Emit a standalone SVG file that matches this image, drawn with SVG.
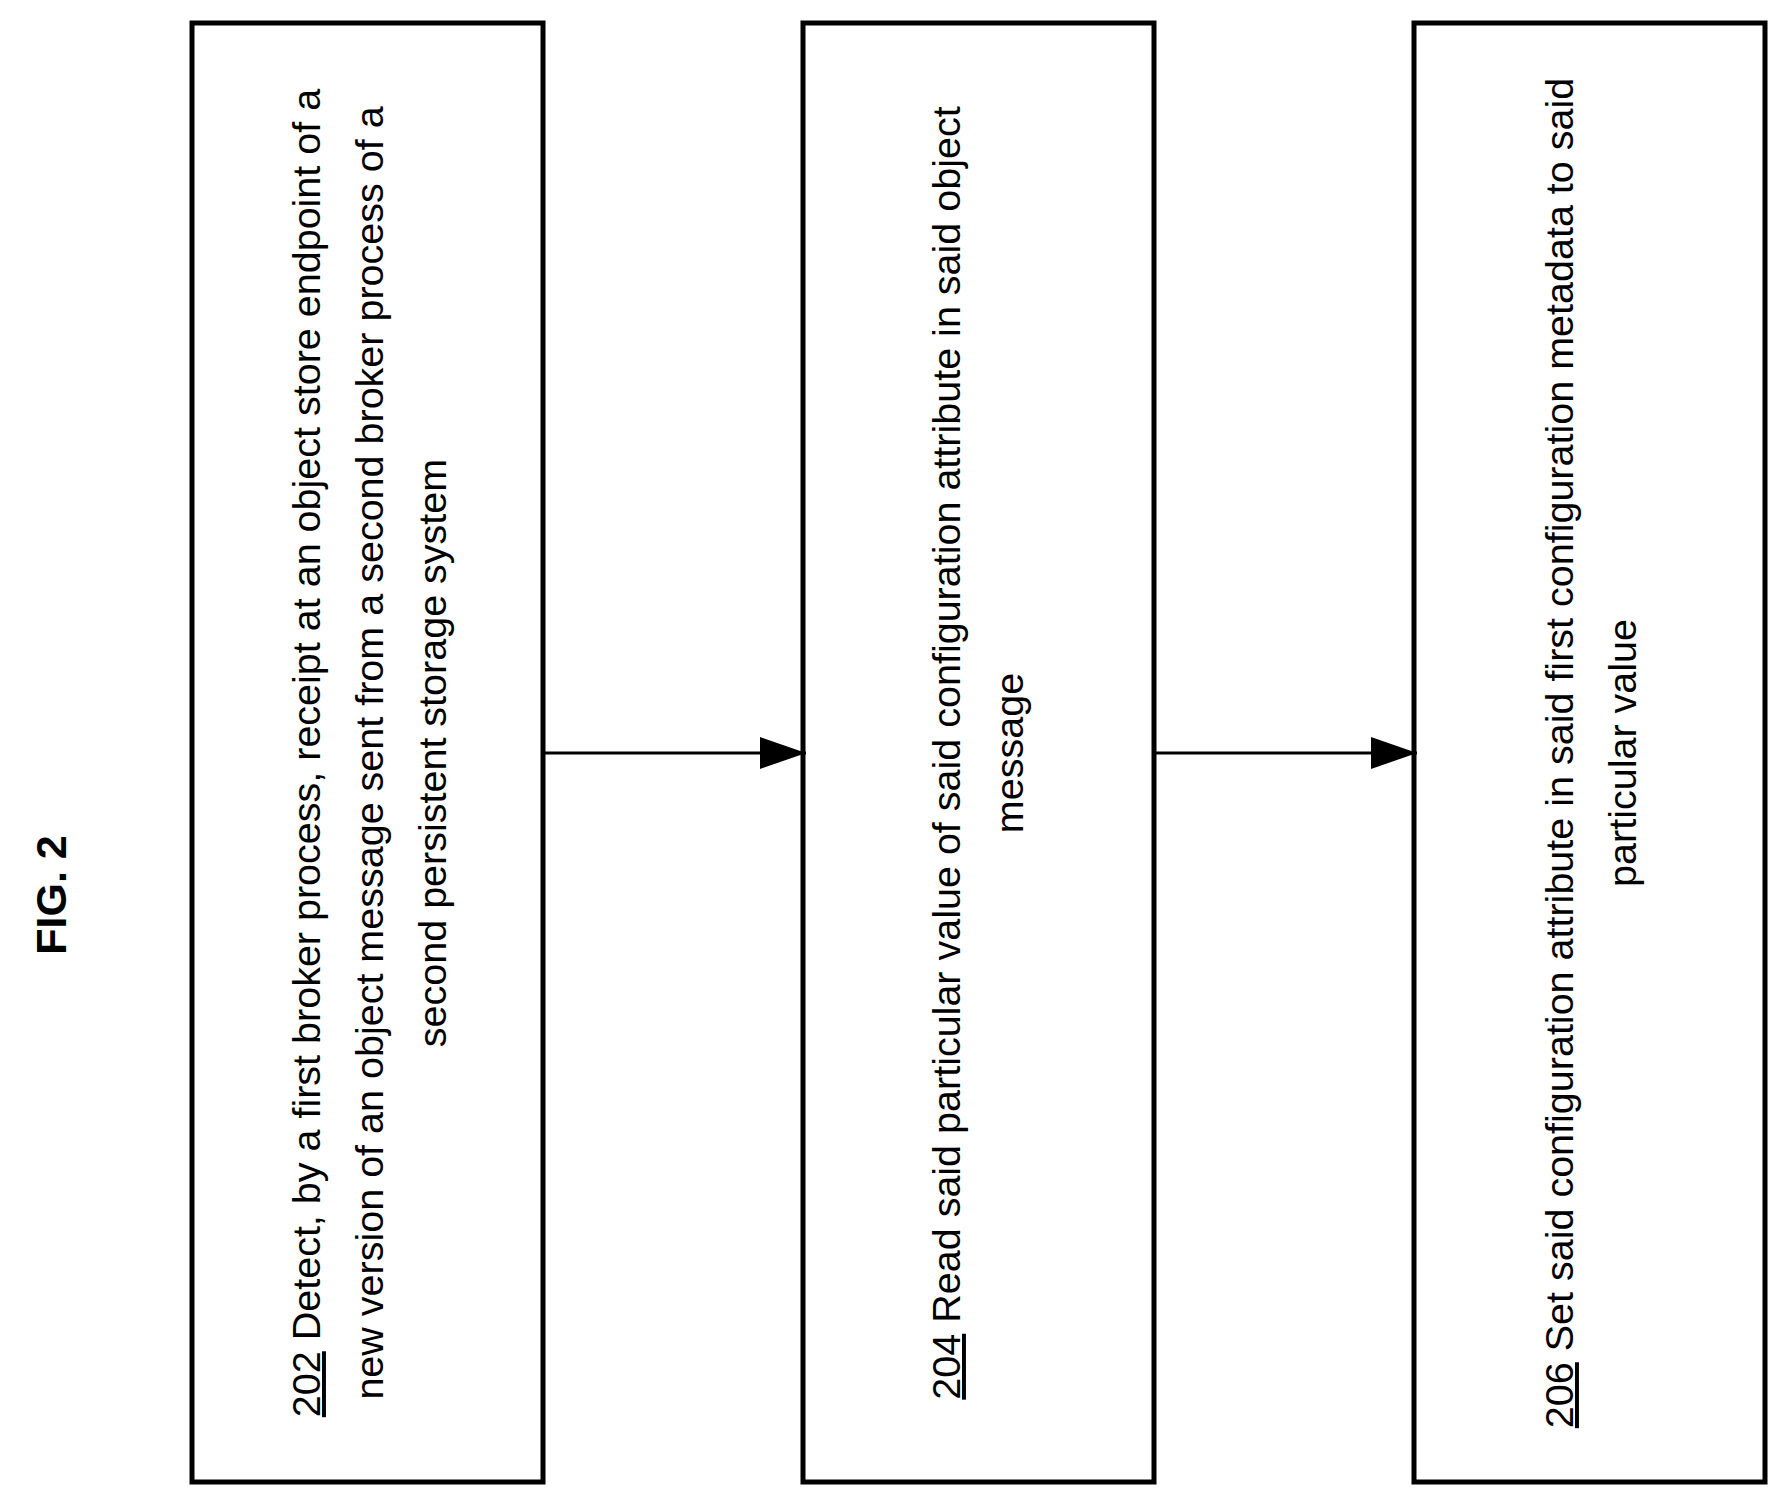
<svg xmlns="http://www.w3.org/2000/svg" width="1788" height="1505" viewBox="0 0 1788 1505">
<style>
.box{fill:#fff;stroke:#000;stroke-width:5}
.t{font-family:"Liberation Sans",Arial,sans-serif;font-size:39.5px;text-anchor:middle;fill:#000}
.u{text-decoration:underline}
.c{stroke:#000;stroke-width:3;fill:none}
</style>
<defs>
<marker id="a" viewBox="0 0 46 32" refX="46" refY="16" markerWidth="46" markerHeight="32" markerUnits="userSpaceOnUse" orient="auto"><path d="M0,0L46,16L0,32z" fill="#000"/></marker></defs>
<text class="t" style="font-size:43px;font-weight:bold" transform="translate(66,895) rotate(-90)">FIG. 2</text>
<g id="n202"><rect class="box" x="192" y="23" width="351" height="1459"/>
<text class="t" transform="translate(320,753) rotate(-90)"><tspan class="u">202</tspan> Detect, by a first broker process,  receipt at an object store endpoint of a</text>
<text class="t" transform="translate(383,753) rotate(-90)">new version of an object message sent from a second broker process of a</text>
<text class="t" transform="translate(446,753) rotate(-90)">second persistent storage system</text></g>
<g id="n204"><rect class="box" x="803" y="23" width="351" height="1459"/>
<text class="t" transform="translate(960,753) rotate(-90)"><tspan class="u">204</tspan> Read said particular value of said configuration attribute in said object</text>
<text class="t" transform="translate(1023,753) rotate(-90)">message</text></g>
<g id="n206"><rect class="box" x="1414" y="23" width="351" height="1459"/>
<text class="t" transform="translate(1573,753) rotate(-90)"><tspan class="u">206</tspan> Set said configuration attribute in said first configuration metadata to said</text>
<text class="t" transform="translate(1636,753) rotate(-90)">particular value</text></g>
<g id="connectors">
<line class="c" x1="545" y1="753" x2="806" y2="753" marker-end="url(#a)"/>
<line class="c" x1="1156" y1="753" x2="1417" y2="753" marker-end="url(#a)"/>
</g>
</svg>
